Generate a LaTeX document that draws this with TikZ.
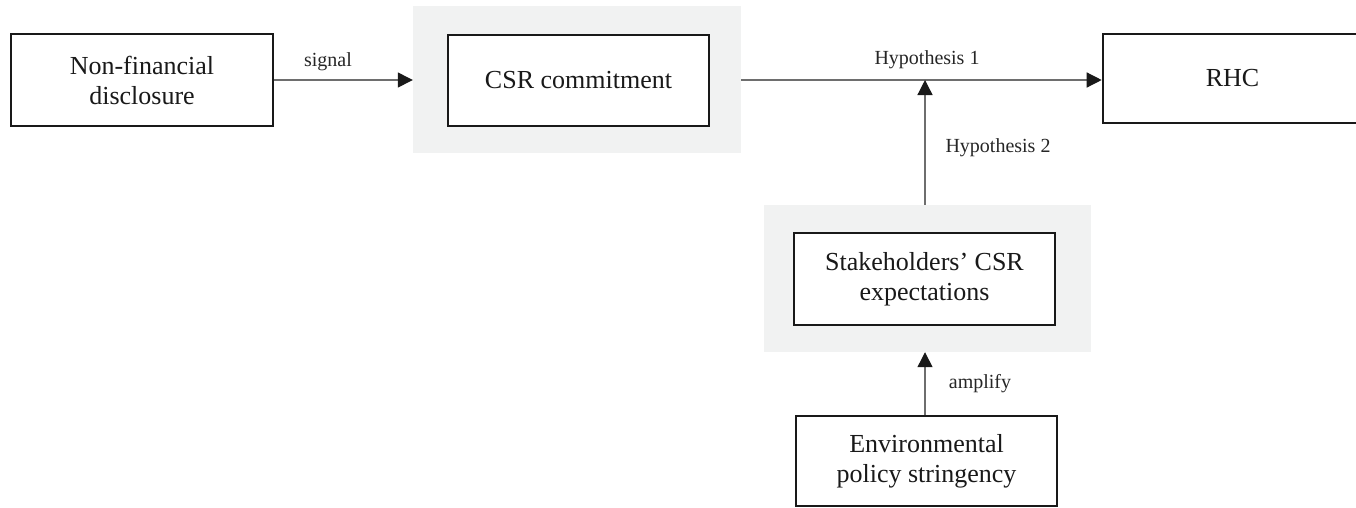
\documentclass[tikz,border=0pt]{standalone}
\usepackage{fontspec}
\setmainfont{Liberation Serif}
\usetikzlibrary{arrows.meta}
\definecolor{bggray}{HTML}{F1F2F2}
\definecolor{linegray}{HTML}{6E6E6E}
\tikzset{
  mainbox/.style={draw=black!90, line width=2.6pt, fill=white, align=center, inner sep=0pt,
    font=\fontsize{26}{30}\selectfont, text=black!90},
  bgbox/.style={fill=bggray, draw=none, inner sep=0pt},
  arr/.style={draw=linegray, line width=1.3pt, -{Triangle[length=15pt,width=15pt,color=black!90]}},
  lbl/.style={font=\fontsize{20}{24}\selectfont, text=black!85, inner sep=0pt}
}
\begin{document}
\begin{tikzpicture}[x=1pt,y=-1pt]
\useasboundingbox[fill=white] (0,0) rectangle (1356,507);
% gray backgrounds
\node[bgbox, minimum width=328pt, minimum height=147pt] (csrbg) at (577,79.5) {};
\node[bgbox, minimum width=327pt, minimum height=147pt] (stbg) at (927.5,278.5) {};
% boxes
\node[mainbox, minimum width=262pt, minimum height=92pt] (nf) at (142,80) {Non-financial\\disclosure};
\node[mainbox, minimum width=261pt, minimum height=91pt] (csr) at (578.5,80.5) {CSR commitment};
\node[mainbox, minimum width=259pt, minimum height=89pt] (rhc) at (1232.5,78.5) {RHC};
\node[mainbox, minimum width=261pt, minimum height=92pt] (st) at (924.5,279) {Stakeholders’ CSR\\expectations};
\node[mainbox, minimum width=261pt, minimum height=90pt] (env) at (926.5,461) {Environmental\\policy stringency};
% connectors
\coordinate (h2) at (925,80);
\draw[arr] (nf.east |- 0,80) -- (csrbg.west |- 0,80);
\draw[arr] (csrbg.east |- 0,80) -- (rhc.west |- 0,80);
\draw[arr] (stbg.north -| h2) -- (h2);
\draw[arr] (env.north -| h2) -- (stbg.south -| h2);
% labels
\node[lbl] (lsig) at (328,62) {signal};
\node[lbl] (lh1) at (927,60) {Hypothesis 1};
\node[lbl] (lh2) at (998,148) {Hypothesis 2};
\node[lbl] (lamp) at (980,384) {amplify};
\end{tikzpicture}
\end{document}
